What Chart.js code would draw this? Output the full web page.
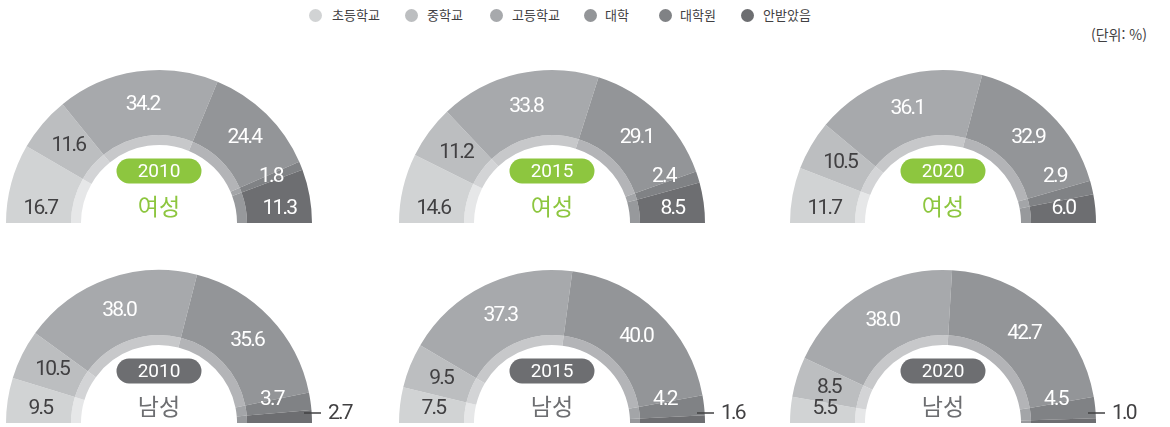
<!DOCTYPE html>
<html lang="ko">
<head>
<meta charset="utf-8">
<script src="https://cdn.jsdelivr.net/npm/chart.js@4/dist/chart.umd.min.js"></script>
<style>
  html, body { margin: 0; padding: 0; background: #fff; }
  body { width: 1170px; height: 427px; position: relative; overflow: hidden;
         font-family: "Noto Sans CJK KR", "Noto Sans", sans-serif; color: #414042; }
  canvas { position: absolute; }
  .lg-dot { position: absolute; width: 13px; height: 13px; border-radius: 50%; }
  .lg-txt { position: absolute; font-size: 13px; line-height: 16px; white-space: nowrap; color: #414042; }
  #unit { position: absolute; left: 1091px; top: 25px; font-size: 14px; line-height: 18px; color: #414042; white-space: nowrap; }
</style>
</head>
<body>
<div id="legend"></div>
<div id="unit">(단위: %)</div>
<script>
// ---- data ----
const categories = ['초등학교', '중학교', '고등학교', '대학', '대학원', '안받았음'];
const years = ['2010', '2015', '2020'];
const female2010 = [16.7, 11.6, 34.2, 24.4, 1.8, 11.3];
const female2015 = [14.6, 11.2, 33.8, 29.1, 2.4, 8.5];
const female2020 = [11.7, 10.5, 36.1, 32.9, 2.9, 6.0];
const male2010 = [9.5, 10.5, 38.0, 35.6, 3.7, 2.7];
const male2015 = [7.5, 9.5, 37.3, 40.0, 4.2, 1.6];
const male2020 = [5.5, 8.5, 38.0, 42.7, 4.5, 1.0];
const genders = ['여성', '남성'];

// ---- styles ----
const mainColors = ['#d1d3d4', '#bcbec0', '#a7a9ac', '#939598', '#808285', '#6d6e71'];
const innerColors = ['#e6e7e8', '#d3d4d6', '#c7c8ca', '#b3b4b7', '#a3a5a8', '#97999c'];
const labelColors = ['#414042', '#414042', '#ffffff', '#ffffff', '#ffffff', '#ffffff'];
const genderColors = ['#8dc63f', '#6d6e71'];

// legend
const legendDotX = [315, 411.5, 496.5, 590, 665, 747];
const legendTxtX = [332, 427, 512, 605, 680, 763];
const legend = document.getElementById('legend');
categories.forEach((c, i) => {
  const d = document.createElement('div');
  d.className = 'lg-dot';
  d.style.left = (legendDotX[i] - 6.5) + 'px';
  d.style.top = (15 - 6.5) + 'px';
  d.style.background = mainColors[i];
  legend.appendChild(d);
  const t = document.createElement('div');
  t.className = 'lg-txt';
  t.style.left = legendTxtX[i] + 'px';
  t.style.top = (15 - 8) + 'px';
  t.textContent = c;
  legend.appendChild(t);
});

const DEG = Math.PI / 180;
const labelPlugin = {
  id: 'segLabels',
  afterDatasetsDraw(chart) {
    const ctx = chart.ctx;
    const meta = chart.getDatasetMeta(0);
    const ds = chart.data.datasets[0];
    const n = meta.data.length;
    const o = chart.options.plugins.segLabels;
    const lastOutside = ds.data[n - 1] < 3;
    let cx = 0, cy = 0;
    meta.data.forEach((arc, i) => {
      const p = arc.getProps(['x', 'y', 'startAngle', 'endAngle', 'innerRadius', 'outerRadius'], true);
      cx = p.x; cy = p.y;
      const val = ds.data[i];
      const txt = val.toFixed(1);
      let ang = (p.startAngle + p.endAngle) / 2;
      const r = (p.innerRadius + p.outerRadius) / 2;
      const edge = 7.5 * DEG;
      ctx.save();
      ctx.font = '400 21px Roboto, "Noto Sans", sans-serif';
      ctx.letterSpacing = '-1.8px';
      ctx.textBaseline = 'middle';
      if (i === n - 1 && lastOutside) {
        const ly = p.y + Math.min(Math.sin(ang) * p.outerRadius, -10);
        ctx.strokeStyle = '#414042';
        ctx.lineWidth = 1.5;
        ctx.beginPath();
        ctx.moveTo(p.x + p.outerRadius - 8, ly);
        ctx.lineTo(p.x + p.outerRadius + 9, ly);
        ctx.stroke();
        ctx.fillStyle = '#414042';
        ctx.textAlign = 'left';
        ctx.fillText(txt, p.x + p.outerRadius + 16, ly + 1);
      } else {
        let rr = r;
        if (i === 0) ang = -Math.PI + edge;
        if (i === n - 1) ang = -edge;
        if (i === n - 2) {
          // keep the small label clear of its neighbour
          const minAng = lastOutside ? 12 * DEG : 23 * DEG;
          if (-ang < minAng) ang = -minAng;
          if (lastOutside) rr = r - 6;
        }
        const lx = p.x + Math.cos(ang) * rr;
        const ly = p.y + Math.sin(ang) * rr;
        ctx.fillStyle = labelColors[i];
        ctx.textAlign = 'center';
        ctx.fillText(txt, lx + 0.9, ly + 1);
      }
      ctx.restore();
    });
    // year pill + gender text
    ctx.save();
    const col = o.color;
    ctx.fillStyle = col;
    ctx.beginPath();
    ctx.roundRect(cx - 42.5, cy - 64.5, 85, 25, 12.5);
    ctx.fill();
    ctx.fillStyle = '#ffffff';
    ctx.font = '400 19px Roboto, "Noto Sans", sans-serif';
    ctx.textAlign = 'center';
    ctx.textBaseline = 'middle';
    ctx.fillText(o.year, cx, cy - 51);
    ctx.fillStyle = col;
    ctx.font = '400 23px "Noto Sans CJK KR", sans-serif';
    ctx.fillText(o.gender, cx, cy - 17);
    ctx.restore();
  }
};

function makeChart(values, year, gIdx, cx, cy) {
  const padL = 12, padR = 52, padT = 8, padB = 8;
  const R = 153;
  const cv = document.createElement('canvas');
  const w = padL + 2 * R + padR, h = padT + R + padB;
  cv.width = w; cv.height = h;
  cv.style.width = w + 'px'; cv.style.height = h + 'px';
  cv.style.left = (cx - R - padL) + 'px';
  cv.style.top = (cy - R - padT) + 'px';
  document.body.appendChild(cv);
  new Chart(cv, {
    type: 'doughnut',
    data: {
      labels: categories,
      datasets: [
        { data: values, backgroundColor: mainColors, borderWidth: 0, weight: 65 },
        { data: values, backgroundColor: innerColors, borderWidth: 0, weight: 10 }
      ]
    },
    options: {
      responsive: false,
      animation: false,
      devicePixelRatio: 1,
      rotation: -90,
      circumference: 180,
      cutout: '51%',
      layout: { padding: { left: padL, right: padR, top: padT, bottom: padB } },
      plugins: {
        legend: { display: false },
        tooltip: { enabled: false },
        segLabels: { year: year, gender: genders[gIdx], color: genderColors[gIdx] }
      }
    },
    plugins: [labelPlugin]
  });
}

const centersX = [159, 552, 943];
const rowY = [223, 423];
const femaleSets = [female2010, female2015, female2020];
const maleSets = [male2010, male2015, male2020];
years.forEach((y, i) => {
  makeChart(femaleSets[i], y, 0, centersX[i], rowY[0]);
  makeChart(maleSets[i], y, 1, centersX[i], rowY[1]);
});
</script>
</body>
</html>
